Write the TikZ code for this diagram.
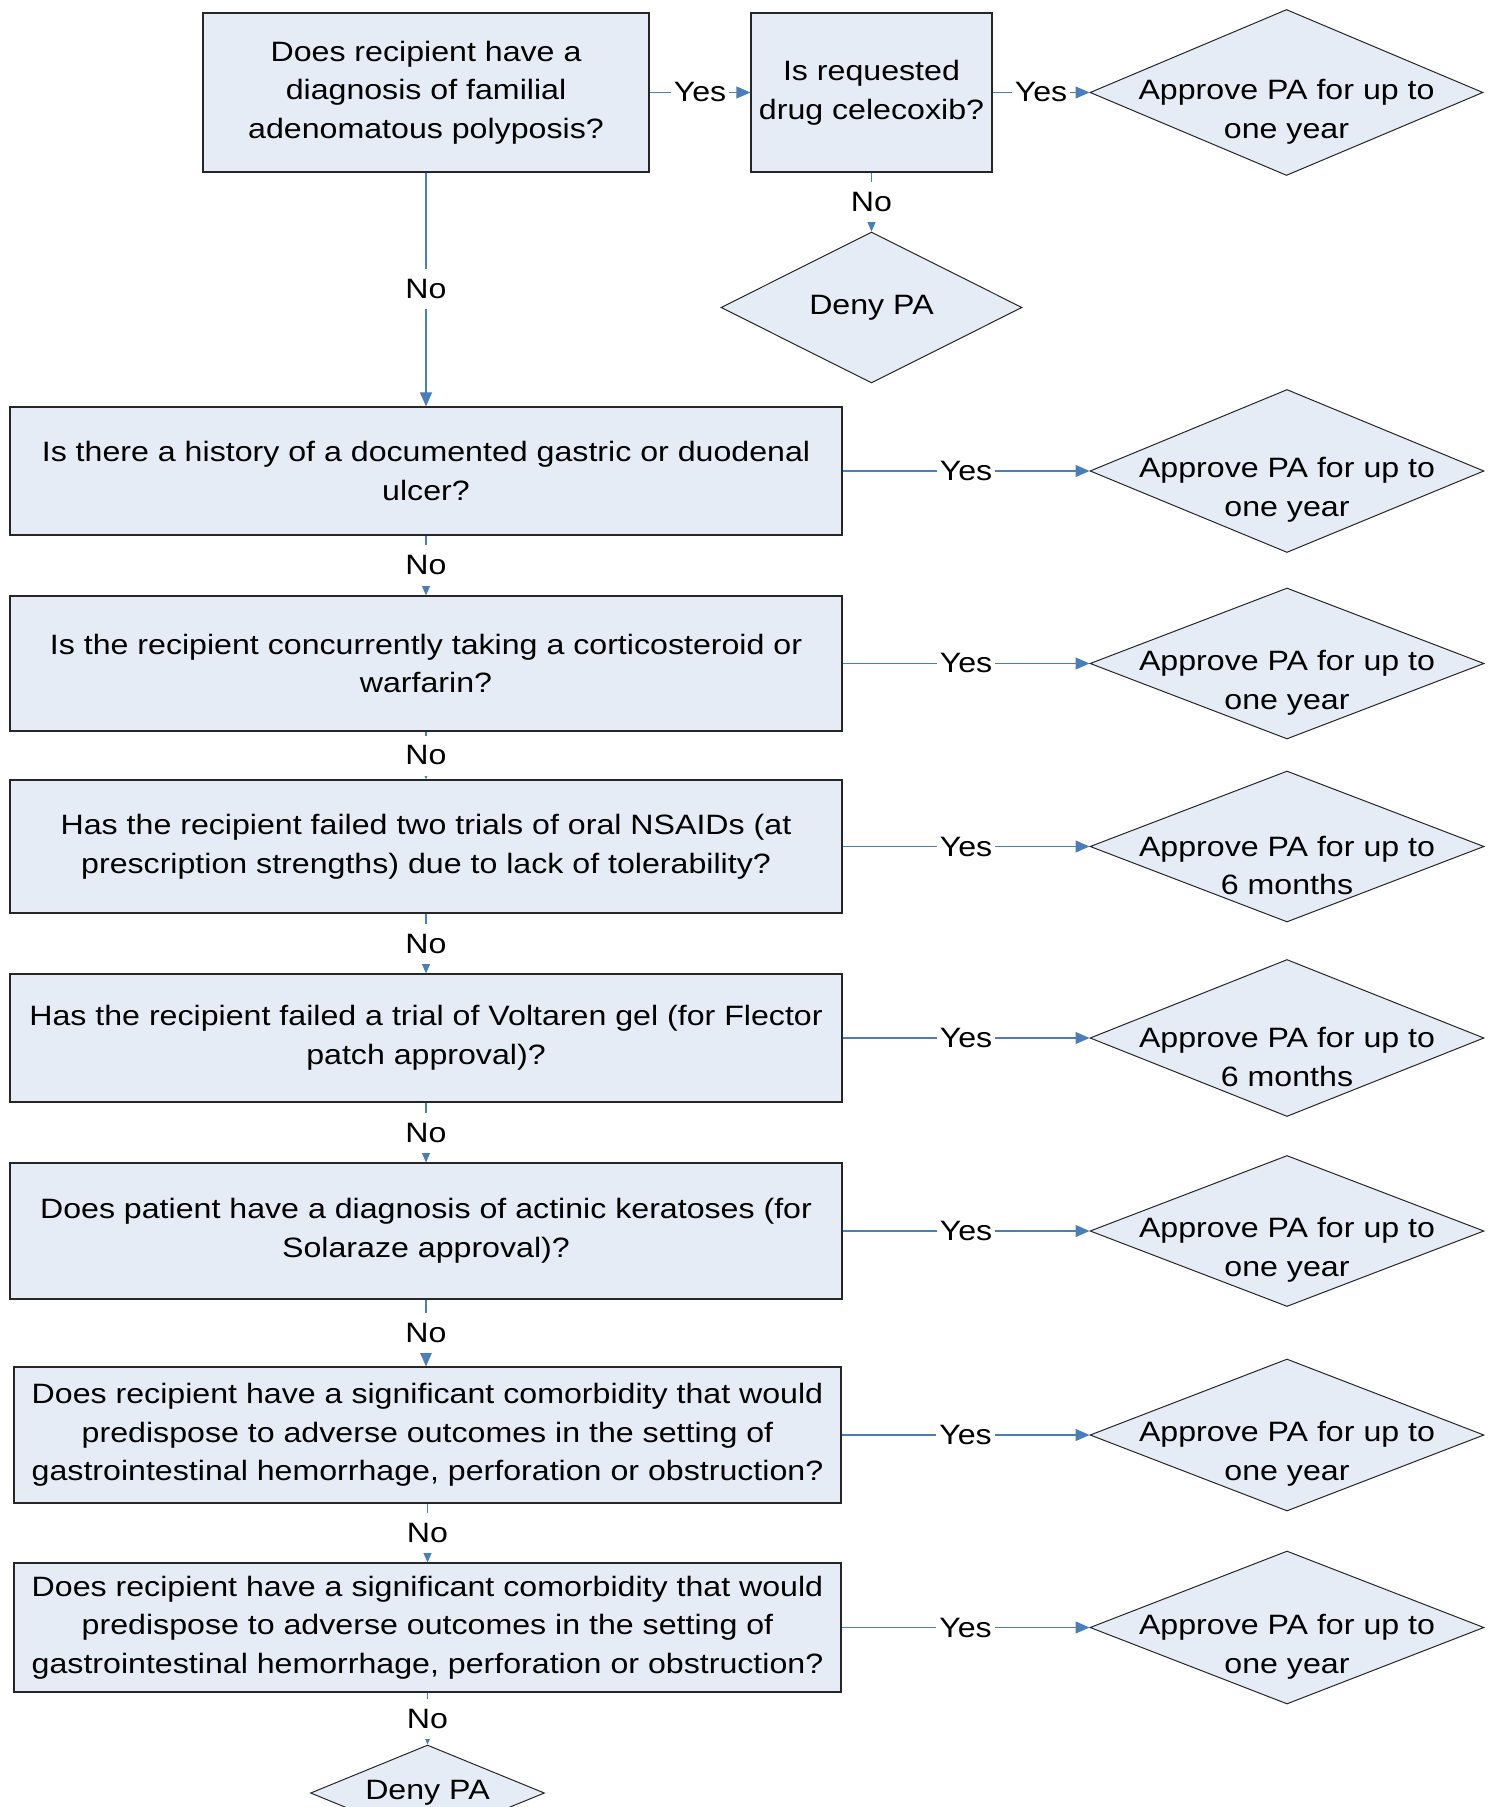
\documentclass[tikz,border=0pt]{standalone}
\usepackage{fontspec}
\setmainfont{Liberation Sans}[FakeStretch=1.148]
\usetikzlibrary{shapes.geometric,arrows.meta}
\definecolor{boxfill}{RGB}{230,236,246}
\definecolor{linkblue}{RGB}{74,126,187}
\begin{document}
\begin{tikzpicture}[x=0.5pt,y=-0.5pt,
  every node/.style={font=\fontsize{14pt}{19.3pt}\selectfont},
  qbox/.style={draw=black!85, line width=0.6pt, fill=boxfill, align=center, inner sep=0pt},
  dec/.style={diamond, draw=black!85, line width=0.5pt, fill=boxfill, inner sep=0pt},
  dtext/.style={align=center, inner sep=0pt},
  link/.style={draw=linkblue, line width=0.6pt, -{Triangle[length=7pt,width=6pt]}},
  lbl/.style={fill=white, inner xsep=1.5pt, inner ysep=0pt, minimum height=20pt},
]
\useasboundingbox (0,0) rectangle (1488,1807);

% top row
\node[qbox, minimum width=223pt, minimum height=79.5pt] (q1) at (426,92.5)
  {Does recipient have a\\diagnosis of familial\\adenomatous polyposis?};
\node[qbox, minimum width=120.5pt, minimum height=79.5pt] (q2) at (871.5,92.5)
  {Is requested\\drug celecoxib?};
\node[dec, minimum width=196.5pt, minimum height=83pt] (a1) at (1286.5,92.5) {};
\node[dtext] (a1t) at (1286.5,111.5) {Approve PA for up to\\one year};
\node[dec, minimum width=150.5pt, minimum height=75.5pt] (n1) at (871.5,307.5) {};
\node[dtext] (n1t) at (n1.center) {Deny PA};

% main column of questions
\node[qbox, minimum width=416pt, minimum height=64pt] (q3) at (426,471)
  {Is there a history of a documented gastric or duodenal\\ulcer?};
\node[qbox, minimum width=416pt, minimum height=67.5pt] (q4) at (426,663.5)
  {Is the recipient concurrently taking a corticosteroid or\\warfarin?};
\node[qbox, minimum width=416pt, minimum height=66.5pt] (q5) at (426,846.5)
  {Has the recipient failed two trials of oral NSAIDs (at\\prescription strengths) due to lack of tolerability?};
\node[qbox, minimum width=416pt, minimum height=64pt] (q6) at (426,1038)
  {Has the recipient failed a trial of Voltaren gel (for Flector\\patch approval)?};
\node[qbox, minimum width=416pt, minimum height=68pt] (q7) at (426,1231)
  {Does patient have a diagnosis of actinic keratoses (for\\Solaraze approval)?};
\node[qbox, minimum width=413.5pt, minimum height=68pt] (q8) at (427.5,1435)
  {Does recipient have a significant comorbidity that would\\predispose to adverse outcomes in the setting of\\gastrointestinal hemorrhage, perforation or obstruction?};
\node[qbox, minimum width=413.5pt, minimum height=64.5pt] (q9) at (427.5,1627.5)
  {Does recipient have a significant comorbidity that would\\predispose to adverse outcomes in the setting of\\gastrointestinal hemorrhage, perforation or obstruction?};

% outcome diamonds
\node[dec, minimum width=197pt, minimum height=81.5pt] (a2) at (1287,471) {};
\node[dtext] (a2t) at (1287,490) {Approve PA for up to\\one year};
\node[dec, minimum width=197pt, minimum height=75.5pt] (a3) at (1287,663.5) {};
\node[dtext] (a3t) at (1287,682.5) {Approve PA for up to\\one year};
\node[dec, minimum width=197pt, minimum height=75.5pt] (a4) at (1287,846.5) {};
\node[dtext] (a4t) at (1287,865.5) {Approve PA for up to\\6 months};
\node[dec, minimum width=197pt, minimum height=78.5pt] (a5) at (1287,1038) {};
\node[dtext] (a5t) at (1287,1057) {Approve PA for up to\\6 months};
\node[dec, minimum width=197pt, minimum height=75.5pt] (a6) at (1287,1231) {};
\node[dtext] (a6t) at (1287,1250) {Approve PA for up to\\one year};
\node[dec, minimum width=197pt, minimum height=76pt] (a7) at (1287,1435) {};
\node[dtext] (a7t) at (1287,1454) {Approve PA for up to\\one year};
\node[dec, minimum width=197pt, minimum height=76.5pt] (a8) at (1287,1627.5) {};
\node[dtext] (a8t) at (1287,1646.5) {Approve PA for up to\\one year};

\node[dec, minimum width=117pt, minimum height=48pt] (n2) at (427.5,1793) {};
\node[dtext] (n2t) at (n2.center) {Deny PA};

% connectors
\draw[link] (q1.east) -- node[lbl]{Yes} (q2.west);
\draw[link] (q2.east) -- node[lbl]{Yes} (a1.west);
\draw[link] (q2.south) -- node[lbl]{No} (n1.north);
\draw[link] (q1.south) -- node[lbl]{No} (q3.north);
\draw[link] (q3.south) -- node[lbl]{No} (q4.north);
\draw[link] (q4.south) -- node[lbl]{No} (q5.north);
\draw[link] (q5.south) -- node[lbl]{No} (q6.north);
\draw[link] (q6.south) -- node[lbl]{No} (q7.north);
\draw[link] (q7.south) -- node[lbl]{No} (q7.south |- q8.north);
\draw[link] (q8.south) -- node[lbl]{No} (q9.north);
\draw[link] (q9.south) -- node[lbl]{No} (n2.north);

\draw[link] (q3.east) -- node[lbl]{Yes} (a2.west);
\draw[link] (q4.east) -- node[lbl]{Yes} (a3.west);
\draw[link] (q5.east) -- node[lbl]{Yes} (a4.west);
\draw[link] (q6.east) -- node[lbl]{Yes} (a5.west);
\draw[link] (q7.east) -- node[lbl]{Yes} (a6.west);
\draw[link] (q8.east) -- node[lbl]{Yes} (a7.west);
\draw[link] (q9.east) -- node[lbl]{Yes} (a8.west);
\end{tikzpicture}
\end{document}
